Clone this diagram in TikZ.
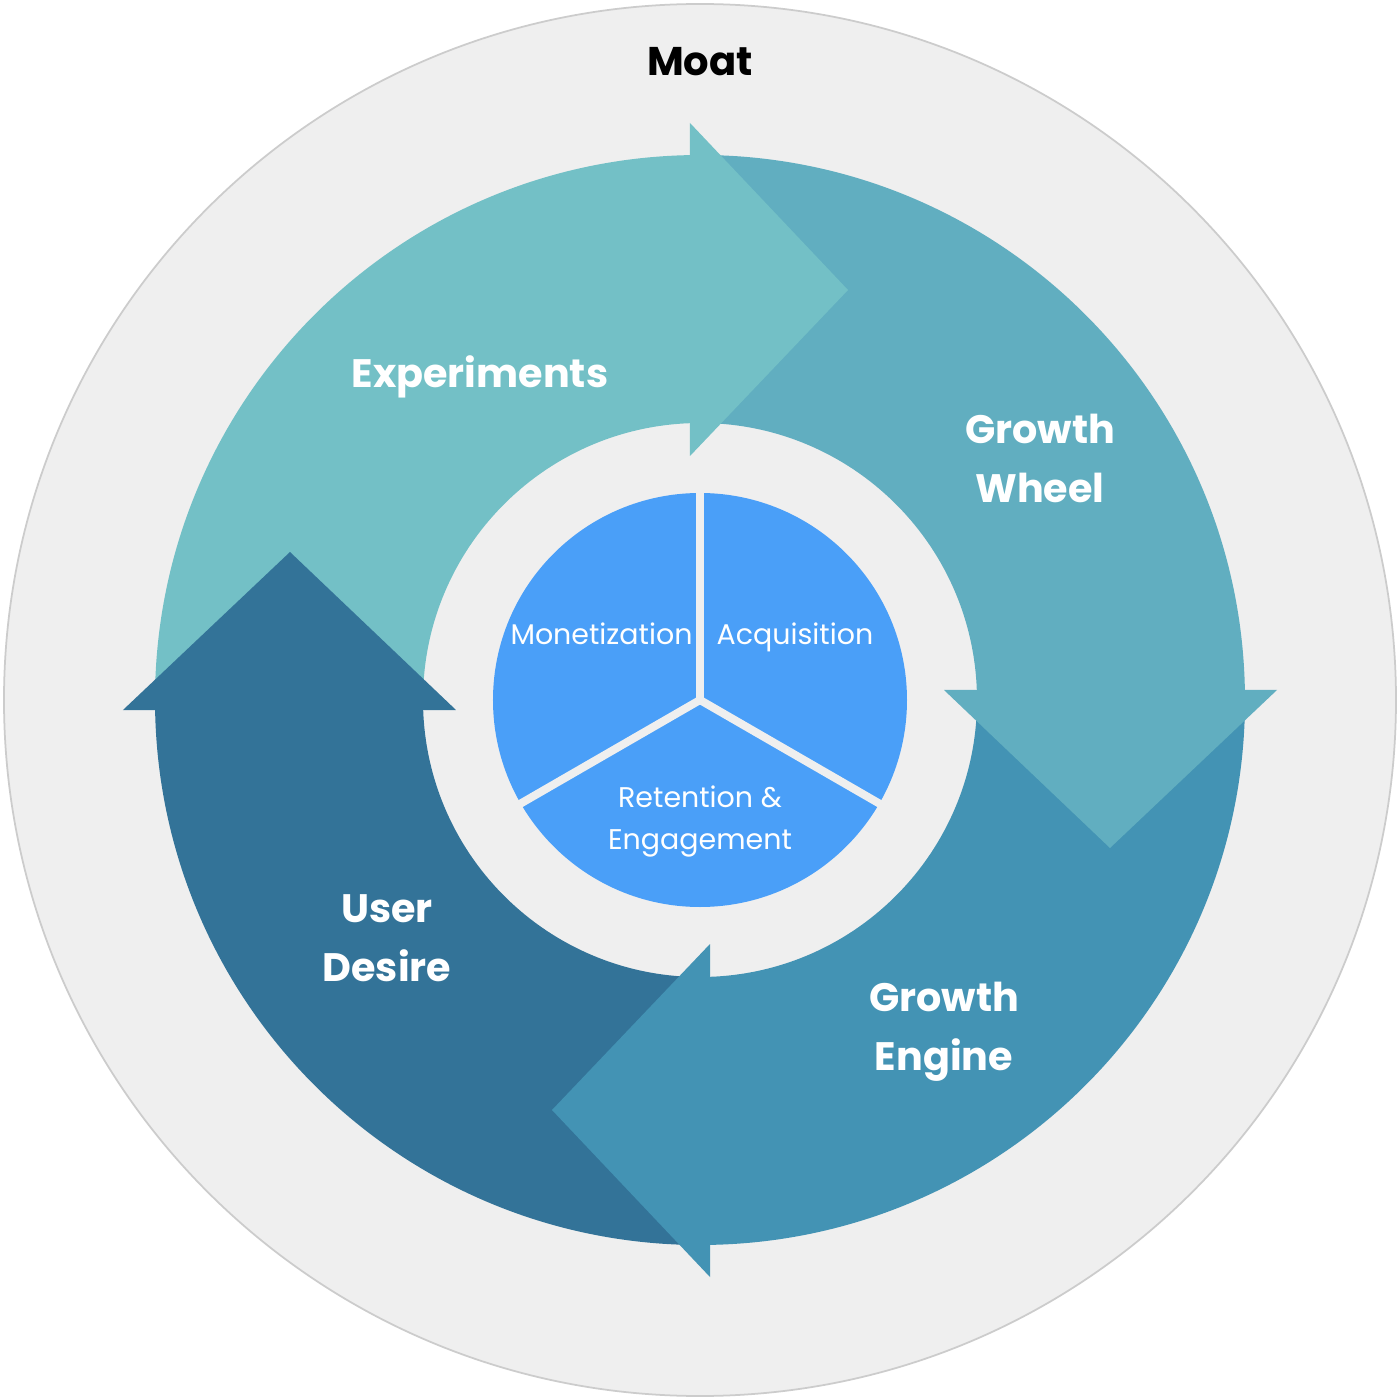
\documentclass[tikz,border=0pt]{standalone}
\usepackage{fontspec}
\setmainfont{Poppins}
\definecolor{moatgray}{HTML}{EFEFEF}
\definecolor{moatline}{HTML}{CCCCCC}
\definecolor{expteal}{HTML}{73C0C6}
\definecolor{wheelteal}{HTML}{61AEC0}
\definecolor{engineblue}{HTML}{4393B4}
\definecolor{desireblue}{HTML}{337398}
\definecolor{pieblue}{HTML}{4A9FF8}
\begin{document}
\begin{tikzpicture}[x = 1cm, y = 1cm,
		biglabel/.style = {text = white, align = center, font = \bfseries\fontsize{11.3}{16.8}\selectfont},
		pielabel/.style = {text = white, align = center, font = \fontsize{8.1}{12}\selectfont}]
	\useasboundingbox (-7,-7) rectangle (7,7);
	\fill[white] (-7,-7) rectangle (7,7);
	\draw[moatline, fill = moatgray, line width = .5pt] (0,0) circle (6.96);
	\foreach \c [count = \i from 0] in {expteal, wheelteal, engineblue, desireblue}
		\fill[\c, rotate = -90*\i] (180:5.45) arc (180:91.05:5.45) -- (92.07:2.77) arc (92.07:180:2.77) -- cycle;
	\foreach \c [count = \i from 0] in {expteal, wheelteal, engineblue, desireblue}
		\fill[\c, rotate = -90*\i] (-.10,2.44) -- (1.48,4.10) -- (-.10,5.77) -- cycle;
	\fill[pieblue] (0,0) circle (2.07);
	\foreach \a in {90, 210, 330}
		\draw[moatgray, line width = .08cm] (0,0) -- (\a:2.2);
	\node[anchor = base, font = \bfseries\fontsize{11.4}{16.8}\selectfont] (moat) at (0,6.24) {Moat};
	\node[biglabel, anchor = base] (experiments) at (-2.20,3.12) {Experiments};
	\node[biglabel] (wheel) at (3.40,2.42) {Growth\\Wheel};
	\node[biglabel] (engine) at (2.44,-3.32) {Growth\\Engine};
	\node[biglabel] (desire) at (-3.13,-2.38) {User\\Desire};
	\node[pielabel, anchor = base] (monetization) at (-.985,.56) {Monetization};
	\node[pielabel, anchor = base] (acquisition) at (.95,.56) {Acquisition};
	\node[pielabel] (retention) at (0,-1.215) {Retention \&\\Engagement};
\end{tikzpicture}
\end{document}
